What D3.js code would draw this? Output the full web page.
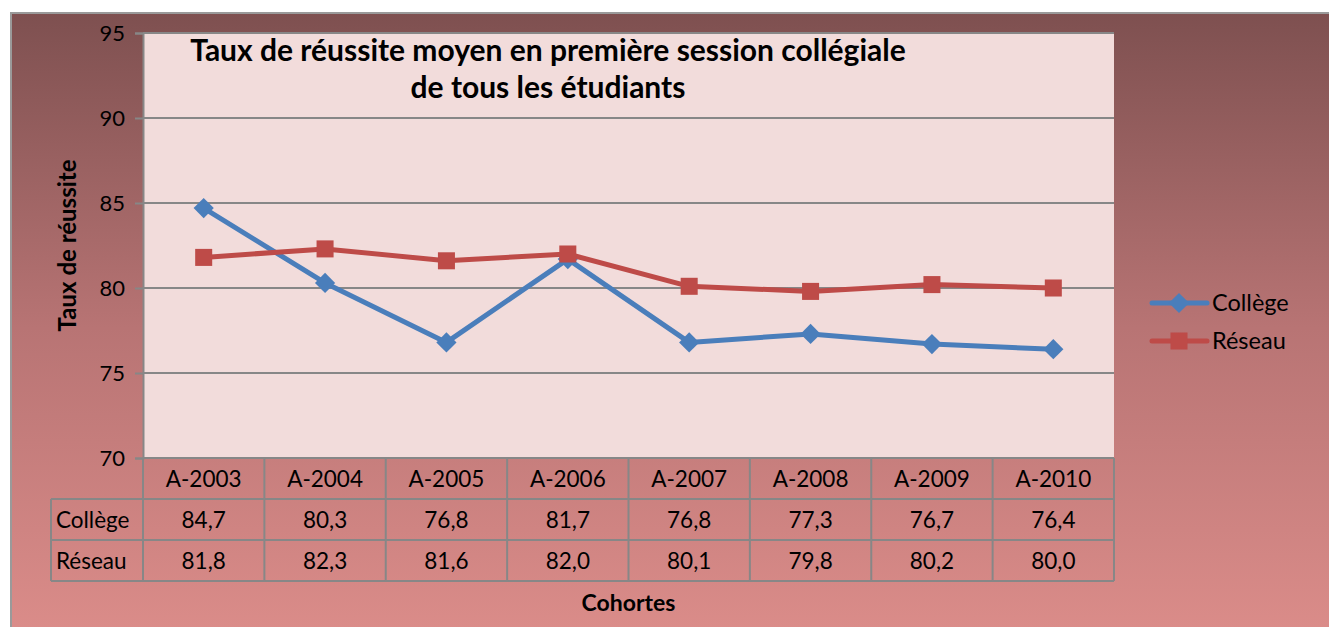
<!DOCTYPE html>
<html>
<head>
<meta charset="utf-8">
<script src="https://cdn.jsdelivr.net/npm/d3@7"></script>
<style>
  body { margin: 0; background: #fff; }
  svg text { font-family: Lato, "Open Sans", sans-serif; fill: #000; }
</style>
</head>
<body>
<svg id="chart" width="1329" height="627"></svg>
<script>
// data
var cohortes = ['A-2003', 'A-2004', 'A-2005', 'A-2006', 'A-2007', 'A-2008', 'A-2009', 'A-2010'];
var college = [84.7, 80.3, 76.8, 81.7, 76.8, 77.3, 76.7, 76.4];
var reseau = [81.8, 82.3, 81.6, 82.0, 80.1, 79.8, 80.2, 80.0];
var yTicks = [70, 75, 80, 85, 90, 95];

var series = [
  { name: 'Collège', values: college, color: '#4a7ebb', marker: 'diamond' },
  { name: 'Réseau', values: reseau, color: '#be4b48', marker: 'square' }
];

var svg = d3.select('#chart');
var plot = { left: 143, top: 33, right: 1114, bottom: 458 };

// background gradient
var defs = svg.append('defs');
var grad = defs.append('linearGradient').attr('id', 'bg')
  .attr('x1', 0).attr('y1', 0).attr('x2', 0).attr('y2', 1);
grad.append('stop').attr('offset', '0%').attr('stop-color', '#7e5050');
grad.append('stop').attr('offset', '50%').attr('stop-color', '#b87474');
grad.append('stop').attr('offset', '100%').attr('stop-color', '#dc8d8a');

svg.append('rect')
  .attr('x', 11).attr('y', 13).attr('width', 1330).attr('height', 630)
  .attr('fill', 'url(#bg)')
  .attr('stroke', '#9a9a9a').attr('stroke-width', 2);

// scales
var x = d3.scaleBand().domain(cohortes).range([plot.left, plot.right]);
var y = d3.scaleLinear().domain([70, 95]).range([plot.bottom, plot.top]);

svg.append('rect')
  .attr('x', plot.left).attr('y', plot.top)
  .attr('width', plot.right - plot.left).attr('height', plot.bottom - plot.top)
  .attr('fill', '#f2dcdb');

// gridlines
svg.append('g').selectAll('line').data(yTicks.filter(function (d) { return d > 70; }))
  .enter().append('line')
  .attr('x1', plot.left).attr('x2', plot.right)
  .attr('y1', function (d) { return y(d); }).attr('y2', function (d) { return y(d); })
  .attr('stroke', '#878787').attr('stroke-width', 2);

// y axis
var yAxis = svg.append('g')
  .attr('transform', 'translate(' + plot.left + ',0)')
  .call(d3.axisLeft(y).tickValues(yTicks).tickSize(8).tickPadding(10).tickFormat(d3.format('d')));
yAxis.select('.domain').attr('stroke', '#878787').attr('stroke-width', 2);
yAxis.selectAll('.tick line').attr('stroke', '#878787').attr('stroke-width', 2);
yAxis.selectAll('.tick text').style('font-size', '22px').style('font-family', 'Lato, sans-serif');

// title
var title = svg.append('text').attr('text-anchor', 'middle')
  .style('font-size', '30px').style('font-weight', 'bold');
title.append('tspan').attr('x', 548).attr('y', 61).text('Taux de réussite moyen en première session collégiale');
title.append('tspan').attr('x', 548).attr('y', 98).text('de tous les étudiants');

// axis titles
svg.append('text')
  .attr('transform', 'translate(76,' + ((plot.top + plot.bottom) / 2) + ') rotate(-90)')
  .attr('text-anchor', 'middle')
  .style('font-size', '24px').style('font-weight', 'bold')
  .text('Taux de réussite');

svg.append('text')
  .attr('x', (plot.left + plot.right) / 2).attr('y', 611)
  .attr('text-anchor', 'middle')
  .style('font-size', '23px').style('font-weight', 'bold')
  .text('Cohortes');

// lines
var line = d3.line()
  .x(function (d, i) { return x(cohortes[i]) + x.bandwidth() / 2; })
  .y(function (d) { return y(d); });

var sg = svg.append('g').selectAll('g').data(series).enter().append('g');
sg.append('path')
  .attr('d', function (s) { return line(s.values); })
  .attr('fill', 'none')
  .attr('stroke', function (s) { return s.color; })
  .attr('stroke-width', 5)
  .attr('stroke-linejoin', 'round');

var diamond = d3.symbol().type(d3.symbolDiamond2).size(260);
var square = d3.symbol().type(d3.symbolSquare).size(290);

sg.selectAll('path.marker')
  .data(function (s) { return s.values.map(function (v, i) { return { s: s, v: v, i: i }; }); })
  .enter().append('path')
  .attr('class', 'marker')
  .attr('transform', function (d) {
    return 'translate(' + (x(cohortes[d.i]) + x.bandwidth() / 2) + ',' + y(d.v) + ')';
  })
  .attr('d', function (d) { return d.s.marker === 'diamond' ? diamond() : square(); })
  .attr('fill', function (d) { return d.s.color; });

// data table
var rowH = 41;
var table = svg.append('g');
var fmt = function (v) { return d3.format('.1f')(v).replace('.', ','); };

table.selectAll('text.head').data(cohortes).enter().append('text')
  .attr('x', function (d) { return x(d) + x.bandwidth() / 2; })
  .attr('y', plot.bottom + rowH / 2 + 8)
  .attr('text-anchor', 'middle')
  .style('font-size', '22.5px')
  .text(function (d) { return d; });

series.forEach(function (s, r) {
  var yy = plot.bottom + rowH * (r + 1);
  table.append('text')
    .attr('x', 56).attr('y', yy + rowH / 2 + 8)
    .style('font-size', '22.5px')
    .text(s.name);
  table.selectAll(null).data(s.values).enter().append('text')
    .attr('x', function (d, i) { return x(cohortes[i]) + x.bandwidth() / 2; })
    .attr('y', yy + rowH / 2 + 8)
    .attr('text-anchor', 'middle')
    .style('font-size', '22.5px')
    .text(fmt);
});

var gridColor = '#878787';
// horizontal table lines
[0, 1, 2, 3].forEach(function (r) {
  table.append('line')
    .attr('x1', r === 0 ? plot.left : 51).attr('x2', plot.right)
    .attr('y1', plot.bottom + rowH * r).attr('y2', plot.bottom + rowH * r)
    .attr('stroke', gridColor).attr('stroke-width', 2);
});
// vertical table lines
table.selectAll('line.v').data(cohortes.concat(['end'])).enter().append('line')
  .attr('x1', function (d, i) { return i < cohortes.length ? x(d) : plot.right; })
  .attr('x2', function (d, i) { return i < cohortes.length ? x(d) : plot.right; })
  .attr('y1', plot.bottom).attr('y2', plot.bottom + rowH * 3)
  .attr('stroke', gridColor).attr('stroke-width', 2);
table.append('line')
  .attr('x1', 51).attr('x2', 51)
  .attr('y1', plot.bottom + rowH).attr('y2', plot.bottom + rowH * 3)
  .attr('stroke', gridColor).attr('stroke-width', 2);

// legend
var legend = svg.append('g').selectAll('g').data(series).enter().append('g')
  .attr('transform', function (d, i) { return 'translate(1152,' + (303 + i * 38) + ')'; });
legend.append('line')
  .attr('x1', 0).attr('x2', 55)
  .attr('stroke', function (d) { return d.color; }).attr('stroke-width', 5)
  .attr('stroke-linecap', 'round');
legend.append('path')
  .attr('transform', 'translate(27,0)')
  .attr('d', function (d) { return d.marker === 'diamond' ? diamond() : square(); })
  .attr('fill', function (d) { return d.color; });
legend.append('text')
  .attr('x', 60).attr('y', 8)
  .style('font-size', '23.5px')
  .text(function (d) { return d.name; });
</script>
</body>
</html>
